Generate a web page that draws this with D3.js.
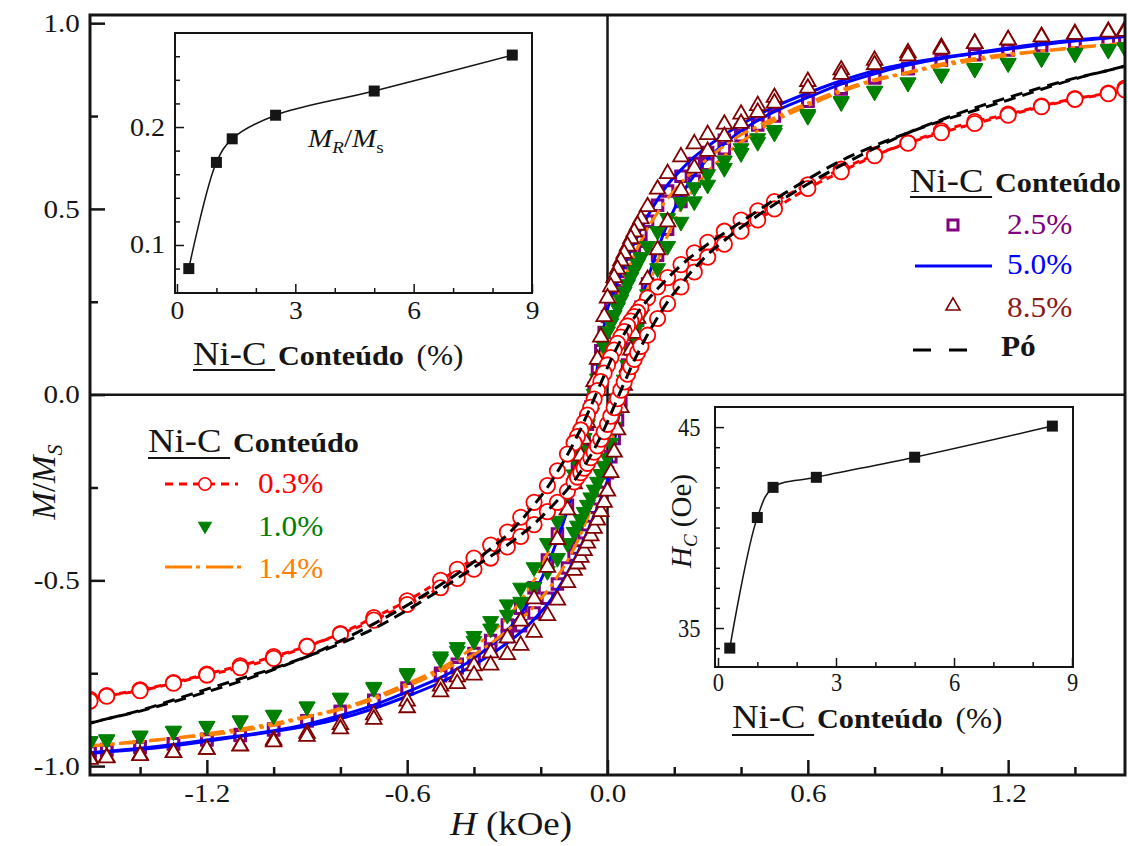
<!DOCTYPE html>
<html><head><meta charset="utf-8">
<script src="https://cdn.jsdelivr.net/npm/d3@7"></script>
<style>
html,body{margin:0;padding:0;background:#fff;}
svg{display:block;font-family:"Liberation Serif","Times New Roman",serif;}
</style></head><body>
<svg id="chart" width="1128" height="846"></svg>
<script>
// ---------------- DATA ----------------
// applied field H (kOe), descending branch order (+H_max -> -H_max)
const fieldDesc = [1.55,1.5,1.4,1.3,1.2,1.1,1.0,0.9,0.8,0.7,0.6,0.5,
 0.45,0.4,0.35,0.3,0.26,0.22,0.18,0.15,0.12,
 0.1,0.09,0.08,0.07,0.06,0.05,0.04,0.03,0.02,0.01,
 0,
 -0.01,-0.02,-0.03,-0.04,-0.05,-0.06,-0.07,-0.08,-0.09,-0.1,
 -0.12,-0.15,-0.18,-0.22,-0.26,-0.3,-0.35,-0.4,-0.45,
 -0.5,-0.6,-0.7,-0.8,-0.9,-1.0,-1.1,-1.2,-1.3,-1.4,-1.5,-1.55];
// ascending branch order (-H_max -> +H_max)
const fieldAsc = [-1.55,-1.5,-1.4,-1.3,-1.2,-1.1,-1.0,-0.9,-0.8,-0.7,-0.6,-0.5,
 -0.45,-0.4,-0.35,-0.3,-0.26,-0.22,-0.18,-0.15,-0.12,
 -0.1,-0.09,-0.08,-0.07,-0.06,-0.05,-0.04,-0.03,-0.02,-0.01,
 0,
 0.01,0.02,0.03,0.04,0.05,0.06,0.07,0.08,0.09,0.1,
 0.12,0.15,0.18,0.22,0.26,0.3,0.35,0.4,0.45,
 0.5,0.6,0.7,0.8,0.9,1.0,1.1,1.2,1.3,1.4,1.5,1.55];

// 0.3 % Ni-C  (M/Ms)
const m03Desc = [0.825,0.812,0.797,0.777,0.755,0.735,0.71,0.678,0.645,0.607,0.565,0.52,
 0.495,0.47,0.44,0.41,0.382,0.35,0.315,0.29,0.26,
 0.235,0.222,0.21,0.198,0.185,0.17,0.155,0.138,0.12,0.10,
 0.08,
 0.058,0.035,0.011,-0.012,-0.034,-0.055,-0.075,-0.095,-0.113,-0.13,
 -0.16,-0.205,-0.245,-0.29,-0.33,-0.37,-0.405,-0.44,-0.47,
 -0.50,-0.555,-0.60,-0.643,-0.677,-0.705,-0.73,-0.752,-0.775,-0.795,-0.81,-0.82];
const m03Asc = [-0.825,-0.812,-0.797,-0.777,-0.755,-0.735,-0.71,-0.678,-0.645,-0.607,-0.565,-0.52,
 -0.495,-0.47,-0.44,-0.41,-0.382,-0.35,-0.315,-0.29,-0.26,
 -0.235,-0.222,-0.21,-0.198,-0.185,-0.17,-0.155,-0.138,-0.12,-0.10,
 -0.08,
 -0.058,-0.035,-0.011,0.012,0.034,0.055,0.075,0.095,0.113,0.13,
 0.16,0.205,0.245,0.29,0.33,0.37,0.405,0.44,0.47,
 0.50,0.555,0.60,0.643,0.677,0.705,0.73,0.752,0.775,0.795,0.81,0.82];

// 1.0 % Ni-C
const m10Desc = [0.935,0.93,0.92,0.907,0.893,0.879,0.864,0.84,0.818,0.79,0.755,0.712,
 0.69,0.663,0.63,0.593,0.558,0.518,0.475,0.44,0.40,
 0.37,0.353,0.335,0.316,0.297,0.277,0.256,0.235,0.214,0.192,
 0.17,
 0.13,0.087,0.043,0.002,-0.04,-0.08,-0.117,-0.152,-0.185,-0.215,
 -0.27,-0.34,-0.40,-0.465,-0.52,-0.565,-0.61,-0.65,-0.68,
 -0.705,-0.75,-0.787,-0.816,-0.84,-0.862,-0.877,-0.892,-0.905,-0.918,-0.928,-0.933];
const m10Asc = [-0.935,-0.93,-0.92,-0.907,-0.893,-0.879,-0.864,-0.84,-0.818,-0.79,-0.755,-0.712,
 -0.69,-0.663,-0.63,-0.593,-0.558,-0.518,-0.475,-0.44,-0.40,
 -0.37,-0.353,-0.335,-0.316,-0.297,-0.277,-0.256,-0.235,-0.214,-0.192,
 -0.17,
 -0.13,-0.087,-0.043,-0.002,0.04,0.08,0.117,0.152,0.185,0.215,
 0.27,0.34,0.40,0.465,0.52,0.565,0.61,0.65,0.68,
 0.705,0.75,0.787,0.816,0.84,0.862,0.877,0.892,0.905,0.918,0.928,0.933];

// 1.4 % Ni-C
const m14Desc = [0.946,0.942,0.933,0.925,0.917,0.905,0.89,0.868,0.848,0.82,0.785,0.745,
 0.722,0.70,0.67,0.635,0.605,0.57,0.528,0.49,0.447,
 0.413,0.395,0.375,0.354,0.332,0.308,0.284,0.26,0.237,0.214,
 0.19,
 0.148,0.10,0.053,0.009,-0.037,-0.08,-0.12,-0.157,-0.192,-0.225,
 -0.285,-0.36,-0.428,-0.50,-0.555,-0.60,-0.643,-0.68,-0.71,
 -0.737,-0.778,-0.815,-0.845,-0.866,-0.885,-0.9,-0.913,-0.925,-0.935,-0.942,-0.946];
const m14Asc = [-0.946,-0.942,-0.933,-0.925,-0.917,-0.905,-0.89,-0.868,-0.848,-0.82,-0.785,-0.745,
 -0.722,-0.70,-0.67,-0.635,-0.605,-0.57,-0.528,-0.49,-0.447,
 -0.413,-0.395,-0.375,-0.354,-0.332,-0.308,-0.284,-0.26,-0.237,-0.214,
 -0.19,
 -0.148,-0.10,-0.053,-0.009,0.037,0.08,0.12,0.157,0.192,0.225,
 0.285,0.36,0.428,0.50,0.555,0.60,0.643,0.68,0.71,
 0.737,0.778,0.815,0.845,0.866,0.885,0.9,0.913,0.925,0.935,0.942,0.946];

// 2.5 % Ni-C
const m25Desc = [0.962,0.958,0.95,0.94,0.93,0.918,0.903,0.878,0.853,0.823,0.792,0.757,
 0.735,0.712,0.685,0.652,0.622,0.588,0.548,0.51,0.467,
 0.432,0.413,0.393,0.372,0.35,0.327,0.303,0.28,0.258,0.235,
 0.21,
 0.167,0.118,0.068,0.017,-0.033,-0.08,-0.123,-0.162,-0.2,-0.235,
 -0.298,-0.375,-0.445,-0.52,-0.575,-0.62,-0.662,-0.697,-0.726,
 -0.75,-0.79,-0.825,-0.853,-0.878,-0.9,-0.915,-0.928,-0.94,-0.948,-0.955,-0.958];
const m25Asc = [-0.962,-0.958,-0.95,-0.94,-0.93,-0.918,-0.903,-0.878,-0.853,-0.823,-0.792,-0.757,
 -0.735,-0.712,-0.685,-0.652,-0.622,-0.588,-0.548,-0.51,-0.467,
 -0.432,-0.413,-0.393,-0.372,-0.35,-0.327,-0.303,-0.28,-0.258,-0.235,
 -0.21,
 -0.167,-0.118,-0.068,-0.017,0.033,0.08,0.123,0.162,0.2,0.235,
 0.298,0.375,0.445,0.52,0.575,0.62,0.662,0.697,0.726,
 0.75,0.79,0.825,0.853,0.878,0.9,0.915,0.928,0.94,0.948,0.955,0.958];

// 5.0 % Ni-C
const m50Desc = [0.966,0.962,0.955,0.945,0.933,0.92,0.907,0.892,0.872,0.845,0.812,0.775,
 0.752,0.727,0.70,0.668,0.64,0.605,0.565,0.525,0.48,
 0.445,0.427,0.408,0.388,0.368,0.347,0.325,0.303,0.28,0.257,
 0.23,
 0.185,0.13,0.075,0.02,-0.035,-0.085,-0.13,-0.17,-0.21,-0.245,
 -0.31,-0.39,-0.46,-0.535,-0.59,-0.635,-0.675,-0.71,-0.738,
 -0.762,-0.80,-0.836,-0.864,-0.887,-0.905,-0.918,-0.93,-0.942,-0.952,-0.96,-0.964];
const m50Asc = [-0.966,-0.962,-0.955,-0.945,-0.933,-0.92,-0.907,-0.892,-0.872,-0.845,-0.812,-0.775,
 -0.752,-0.727,-0.70,-0.668,-0.64,-0.605,-0.565,-0.525,-0.48,
 -0.445,-0.427,-0.408,-0.388,-0.368,-0.347,-0.325,-0.303,-0.28,-0.257,
 -0.23,
 -0.185,-0.13,-0.075,-0.02,0.035,0.085,0.13,0.17,0.21,0.245,
 0.31,0.39,0.46,0.535,0.59,0.635,0.675,0.71,0.738,
 0.762,0.80,0.836,0.864,0.887,0.905,0.918,0.93,0.942,0.952,0.96,0.964];

// 8.5 % Ni-C
const m85Desc = [0.982,0.978,0.972,0.964,0.955,0.946,0.935,0.92,0.90,0.874,0.843,0.80,
 0.778,0.755,0.728,0.70,0.675,0.64,0.595,0.553,0.506,
 0.473,0.456,0.438,0.42,0.40,0.38,0.36,0.338,0.315,0.29,
 0.26,
 0.21,0.155,0.095,0.035,-0.025,-0.075,-0.12,-0.165,-0.205,-0.24,
 -0.31,-0.39,-0.465,-0.55,-0.61,-0.655,-0.695,-0.73,-0.76,
 -0.785,-0.825,-0.862,-0.888,-0.912,-0.93,-0.945,-0.955,-0.963,-0.97,-0.976,-0.978];
const m85Asc = [-0.982,-0.978,-0.972,-0.964,-0.955,-0.946,-0.935,-0.92,-0.90,-0.874,-0.843,-0.80,
 -0.778,-0.755,-0.728,-0.70,-0.675,-0.64,-0.595,-0.553,-0.506,
 -0.473,-0.456,-0.438,-0.42,-0.40,-0.38,-0.36,-0.338,-0.315,-0.29,
 -0.26,
 -0.21,-0.155,-0.095,-0.035,0.025,0.075,0.12,0.165,0.205,0.24,
 0.31,0.39,0.465,0.55,0.61,0.655,0.695,0.73,0.76,
 0.785,0.825,0.862,0.888,0.912,0.93,0.945,0.955,0.963,0.97,0.976,0.978];

// Pó (powder)
const mPoDesc = [0.885,0.873,0.85,0.822,0.793,0.765,0.737,0.705,0.67,0.63,0.58,0.525,
 0.495,0.465,0.435,0.405,0.378,0.348,0.313,0.285,0.255,
 0.232,0.22,0.207,0.193,0.178,0.163,0.147,0.13,0.112,0.093,
 0.073,
 0.052,0.031,0.01,-0.011,-0.032,-0.052,-0.072,-0.092,-0.11,-0.128,
 -0.162,-0.208,-0.25,-0.297,-0.34,-0.377,-0.415,-0.45,-0.482,
 -0.512,-0.567,-0.617,-0.663,-0.705,-0.74,-0.772,-0.80,-0.827,-0.852,-0.873,-0.884];
const mPoAsc = [-0.885,-0.873,-0.85,-0.822,-0.793,-0.765,-0.737,-0.705,-0.67,-0.63,-0.58,-0.525,
 -0.495,-0.465,-0.435,-0.405,-0.378,-0.348,-0.313,-0.285,-0.255,
 -0.232,-0.22,-0.207,-0.193,-0.178,-0.163,-0.147,-0.13,-0.112,-0.093,
 -0.073,
 -0.052,-0.031,-0.01,0.011,0.032,0.052,0.072,0.092,0.11,0.128,
 0.162,0.208,0.25,0.297,0.34,0.377,0.415,0.45,0.482,
 0.512,0.567,0.617,0.663,0.705,0.74,0.772,0.80,0.827,0.852,0.873,0.884];

// insets
const insetContent = [0.3, 1.0, 1.4, 2.5, 5.0, 8.5];
const insetMrMs = [0.080, 0.170, 0.190, 0.210, 0.2305, 0.261];
const insetHc = [34.0, 40.5, 42.0, 42.5, 43.5, 45.05];

// ticks
const mainXMajor = [-1.2, -0.6, 0, 0.6, 1.2];
const mainXLabels = ["-1.2", "-0.6", "0.0", "0.6", "1.2"];
const mainXMinor = [-1.4, -1.0, -0.8, -0.4, -0.2, 0.2, 0.4, 0.8, 1.0, 1.4];
const mainYMajor = [-1.0, -0.5, 0, 0.5, 1.0];
const mainYLabels = ["-1.0", "-0.5", "0.0", "0.5", "1.0"];
const mainYMinor = [-0.75, -0.25, 0.25, 0.75];
const insetXMajor = [0, 3, 6, 9];
const insetXLabels = ["0", "3", "6", "9"];
const insetXMinor = [1, 2, 4, 5, 7, 8];
const inset1YMajor = [0.1, 0.2];
const inset1YLabels = ["0.1", "0.2"];
const inset1YMinor = [0.08, 0.12, 0.14, 0.16, 0.18, 0.22, 0.24, 0.26];
const inset2YMajor = [35, 45];
const inset2YLabels = ["35", "45"];
const inset2YMinor = [34, 36, 37, 38, 39, 40, 41, 42, 43, 44];

const legendA = ["0.3%", "1.0%", "1.4%"];
const legendB = ["2.5%", "5.0%", "8.5%", "Pó"];

// ---------------- DRAW ----------------
const svg = d3.select("#chart");
const INK = "#151515";
const C = {p03:"#FF0000", p10:"#008000", p14:"#FF8000", p25:"#800080", p50:"#0000FF", p85:"#800000", po:"#000000"};

svg.append("rect").attr("width",1128).attr("height",846).attr("fill","#fff");

const x = d3.scaleLinear().domain([-1.55, 1.55]).range([90, 1125]);
const y = d3.scaleLinear().domain([-1.024, 1.022]).range([775, 15]);

svg.append("defs").append("clipPath").attr("id","plotclip")
  .append("rect").attr("x",90).attr("y",15).attr("width",1035).attr("height",760);

// zero lines
svg.append("line").attr("x1",x(0)).attr("x2",x(0)).attr("y1",15).attr("y2",775)
  .attr("stroke",INK).attr("stroke-width",2.5);
svg.append("line").attr("x1",90).attr("x2",1125).attr("y1",y(0)).attr("y2",y(0))
  .attr("stroke",INK).attr("stroke-width",2.5);

function styleAxis(g, sw, fs, sx) {
  g.select(".domain").remove();
  g.selectAll(".tick line").attr("stroke",INK).attr("stroke-width",sw);
  g.selectAll(".tick text").attr("fill",INK).attr("font-size",fs)
    .attr("font-family","Liberation Serif").attr("transform",`scale(${sx},1)`);
}

// main axes
const gx = svg.append("g").attr("transform","translate(0,775)");
gx.call(d3.axisBottom(x).tickValues(mainXMinor).tickFormat("").tickSizeInner(-8).tickSizeOuter(0));
styleAxis(gx, 2.5, 26, 1.12);
const gx2 = svg.append("g").attr("transform","translate(0,775)");
gx2.call(d3.axisBottom(x).tickValues(mainXMajor).tickFormat((d,i)=>mainXLabels[i]).tickSizeInner(-15).tickSizeOuter(0).tickPadding(9));
styleAxis(gx2, 2.5, 26, 1.12);

const gy = svg.append("g").attr("transform","translate(90,0)");
gy.call(d3.axisLeft(y).tickValues(mainYMinor).tickFormat("").tickSizeInner(-8).tickSizeOuter(0));
styleAxis(gy, 2.5, 26, 1.12);
const gy2 = svg.append("g").attr("transform","translate(90,0)");
gy2.call(d3.axisLeft(y).tickValues(mainYMajor).tickFormat((d,i)=>mainYLabels[i]).tickSizeInner(-15).tickSizeOuter(0).tickPadding(9));
styleAxis(gy2, 2.5, 26, 1.12);

// series drawing
const plot = svg.append("g").attr("clip-path","url(#plotclip)");
const lineGen = d3.line().x(d=>x(d[0])).y(d=>y(d[1])).curve(d3.curveCatmullRom.alpha(0.5));
const zipPts = (h, m) => h.map((v,i)=>[v, m[i]]);

function drawLine(desc, asc, color, width, dash) {
  [zipPts(fieldDesc, desc), zipPts(fieldAsc, asc)].forEach(pts => {
    plot.append("path").attr("d", lineGen(pts)).attr("fill","none")
      .attr("stroke", color).attr("stroke-width", width)
      .attr("stroke-dasharray", dash || null).attr("stroke-linecap","butt");
  });
}
function drawMarkers(desc, asc, type, size, fill, stroke, sw, rot) {
  const pts = zipPts(fieldDesc, desc).concat(zipPts(fieldAsc, asc));
  const sym = d3.symbol().type(type).size(size);
  plot.append("g").selectAll("path").data(pts).join("path")
    .attr("d", sym)
    .attr("transform", d => `translate(${x(d[0])},${y(d[1])})${rot ? " rotate(180)" : ""}`)
    .attr("fill", fill).attr("stroke", stroke).attr("stroke-width", sw);
}

// order of drawing
drawMarkers(m25Desc, m25Asc, d3.symbolSquare, 110, "#fff", C.p25, 3, false);
drawLine(m50Desc, m50Asc, C.p50, 3, null);
drawLine(m14Desc, m14Asc, C.p14, 3, "16,5,4,5");
drawMarkers(m10Desc, m10Asc, d3.symbolTriangle, 110, C.p10, C.p10, 1, true);
drawMarkers(m85Desc, m85Asc, d3.symbolTriangle, 105, "#fff", C.p85, 1.8, false);
drawLine(m03Desc, m03Asc, C.p03, 3, "7,5");
drawMarkers(m03Desc, m03Asc, d3.symbolCircle, 185, "#fff", C.p03, 1.8, false);
drawLine(mPoDesc, mPoAsc, C.po, 3, "12,7");

// frame
svg.append("rect").attr("x",90).attr("y",15).attr("width",1035).attr("height",760)
  .attr("fill","none").attr("stroke",INK).attr("stroke-width",3);

// axis titles
const xt = svg.append("g").attr("transform","translate(511,835) scale(1.12,1)")
  .append("text").attr("text-anchor","middle").attr("font-size",33).attr("fill",INK);
xt.append("tspan").attr("font-style","italic").text("H");
xt.append("tspan").text(" (kOe)");

const yt = svg.append("g").attr("transform","translate(55,482) rotate(-90)")
  .append("text").attr("text-anchor","middle").attr("font-size",33).attr("fill",INK);
yt.append("tspan").attr("font-style","italic").text("M");
yt.append("tspan").text("/");
yt.append("tspan").attr("font-style","italic").text("M");
yt.append("tspan").attr("font-style","italic").attr("font-size",22).attr("dy",7).text("S");

// Ni-C label helper
function niCLabel(x0, y0, pct, ul) {
  const g = svg.append("g").attr("transform",`translate(${x0},${y0}) scale(1.08,1)`);
  g.append("text").attr("font-size",34).attr("fill",INK).text("Ni-C");
  g.append("line").attr("x1",0).attr("x2",76).attr("y1",ul).attr("y2",ul)
    .attr("stroke",INK).attr("stroke-width",2);
  g.append("text").attr("x",78.7).attr("font-size",28).attr("font-weight","bold").attr("fill",INK).text("Conteúdo");
  if (pct) g.append("text").attr("x",207).attr("font-size",29).attr("fill",INK).text("(%)");
}

// ---------- inset 1 (Mr/Ms) ----------
const ix1 = d3.scaleLinear().domain([-0.05, 9]).range([175, 532]);
const iy1 = d3.scaleLinear().domain([0.0593, 0.2797]).range([293, 33]);
svg.append("rect").attr("x",175).attr("y",33).attr("width",357).attr("height",260)
  .attr("fill","#fff").attr("stroke",INK).attr("stroke-width",2);
function insetAxes(ix, iy, x0, x1, y0, y1, yMaj, yLab, yMin, ySx, yPad, xSx, xPad) {
  let g = svg.append("g").attr("transform",`translate(0,${y1})`);
  g.call(d3.axisBottom(ix).tickValues(insetXMinor).tickFormat("").tickSizeInner(-5).tickSizeOuter(0));
  styleAxis(g, 1.5, 25, xSx);
  g = svg.append("g").attr("transform",`translate(0,${y1})`);
  g.call(d3.axisBottom(ix).tickValues(insetXMajor).tickFormat((d,i)=>insetXLabels[i]).tickSizeInner(-9).tickSizeOuter(0).tickPadding(xPad));
  styleAxis(g, 1.5, 25, xSx);
  g = svg.append("g").attr("transform",`translate(${x0},0)`);
  g.call(d3.axisLeft(iy).tickValues(yMin).tickFormat("").tickSizeInner(-5).tickSizeOuter(0));
  styleAxis(g, 1.5, 25, ySx);
  g = svg.append("g").attr("transform",`translate(${x0},0)`);
  g.call(d3.axisLeft(iy).tickValues(yMaj).tickFormat((d,i)=>yLab[i]).tickSizeInner(-9).tickSizeOuter(0).tickPadding(yPad));
  styleAxis(g, 1.5, 25, ySx);
}
insetAxes(ix1, iy1, 175, 532, 33, 293, inset1YMajor, inset1YLabels, inset1YMinor, 1.12, 9, 1.1, 8);
const ipts1 = insetContent.map((c,i)=>[c, insetMrMs[i]]);
svg.append("path").attr("d", d3.line().x(d=>ix1(d[0])).y(d=>iy1(d[1])).curve(d3.curveCatmullRom.alpha(0.5))(ipts1))
  .attr("fill","none").attr("stroke",INK).attr("stroke-width",1.5);
svg.append("g").selectAll("rect").data(ipts1).join("rect")
  .attr("x",d=>ix1(d[0])-5.5).attr("y",d=>iy1(d[1])-5.5).attr("width",11).attr("height",11).attr("fill",INK);
const mr = svg.append("g").attr("transform","translate(308,147) scale(1.12,1)")
  .append("text").attr("font-size",26).attr("fill",INK);
mr.append("tspan").attr("font-style","italic").text("M");
mr.append("tspan").attr("font-style","italic").attr("font-size",17).attr("dy",6).text("R");
mr.append("tspan").attr("dy",-6).text("/");
mr.append("tspan").attr("font-style","italic").text("M");
mr.append("tspan").attr("font-size",17).attr("dy",6).text("s");
niCLabel(193, 365, true, 5);

// ---------- inset 2 (Hc) ----------
const ix2 = d3.scaleLinear().domain([-0.076, 9.025]).range([715, 1073]);
const iy2 = d3.scaleLinear().domain([33.06, 46.0]).range([667, 407]);
svg.append("rect").attr("x",715).attr("y",407).attr("width",358).attr("height",260)
  .attr("fill","#fff").attr("stroke",INK).attr("stroke-width",2);
insetAxes(ix2, iy2, 715, 1073, 407, 667, inset2YMajor, inset2YLabels, inset2YMinor, 0.9, 16, 0.9, 6);
const ipts2 = insetContent.map((c,i)=>[c, insetHc[i]]);
svg.append("path").attr("d", d3.line().x(d=>ix2(d[0])).y(d=>iy2(d[1])).curve(d3.curveCatmullRom.alpha(0.5))(ipts2))
  .attr("fill","none").attr("stroke",INK).attr("stroke-width",1.5);
svg.append("g").selectAll("rect").data(ipts2).join("rect")
  .attr("x",d=>ix2(d[0])-5.5).attr("y",d=>iy2(d[1])-5.5).attr("width",11).attr("height",11).attr("fill",INK);
const hc = svg.append("g").attr("transform","translate(691,521) rotate(-90)")
  .append("text").attr("text-anchor","middle").attr("font-size",29).attr("fill",INK);
hc.append("tspan").attr("font-style","italic").text("H");
hc.append("tspan").attr("font-style","italic").attr("font-size",19).attr("dy",6).text("C");
hc.append("tspan").attr("dy",-6).text(" (Oe)");
niCLabel(732, 728, true, 7);

// ---------- legend A (left) ----------
niCLabel(148, 452, false, 6);
function legText(x0, y0, txt, color, bold) {
  svg.append("g").attr("transform",`translate(${x0},${y0}) scale(1.08,1)`)
    .append("text").attr("font-size",29).attr("fill",color)
    .attr("font-weight", bold ? "bold" : null).text(txt);
}
svg.append("line").attr("x1",165).attr("x2",238).attr("y1",484).attr("y2",484)
  .attr("stroke",C.p03).attr("stroke-width",3).attr("stroke-dasharray","8,6");
svg.append("path").attr("d", d3.symbol().type(d3.symbolCircle).size(120)())
  .attr("transform","translate(205,484)").attr("fill","#fff").attr("stroke",C.p03).attr("stroke-width",1.5);
legText(258, 493, legendA[0], C.p03);
svg.append("path").attr("d", d3.symbol().type(d3.symbolTriangle).size(75)())
  .attr("transform","translate(205,526) rotate(180)").attr("fill",C.p10).attr("stroke",C.p10);
legText(258, 536, legendA[1], C.p10);
svg.append("line").attr("x1",165).attr("x2",243).attr("y1",567).attr("y2",567)
  .attr("stroke",C.p14).attr("stroke-width",3).attr("stroke-dasharray","27,4,4,6");
legText(258, 578, legendA[2], C.p14);

// ---------- legend B (right) ----------
niCLabel(910, 192, false, 5);
svg.append("path").attr("d", d3.symbol().type(d3.symbolSquare).size(100)())
  .attr("transform","translate(953,225)").attr("fill","#fff").attr("stroke",C.p25).attr("stroke-width",3);
legText(1007, 234, legendB[0], C.p25);
svg.append("line").attr("x1",915).attr("x2",992).attr("y1",266).attr("y2",266)
  .attr("stroke",C.p50).attr("stroke-width",3);
legText(1007, 274, legendB[1], C.p50);
svg.append("path").attr("d", d3.symbol().type(d3.symbolTriangle).size(85)())
  .attr("transform","translate(953,306)").attr("fill","#fff").attr("stroke",C.p85).attr("stroke-width",1.6);
legText(1007, 317, legendB[2], "#8B1A1A");
svg.append("line").attr("x1",913).attr("x2",968).attr("y1",350).attr("y2",350)
  .attr("stroke",C.po).attr("stroke-width",3).attr("stroke-dasharray","18,18");
legText(1001, 356, legendB[3], INK, true);
</script>
</body></html>
